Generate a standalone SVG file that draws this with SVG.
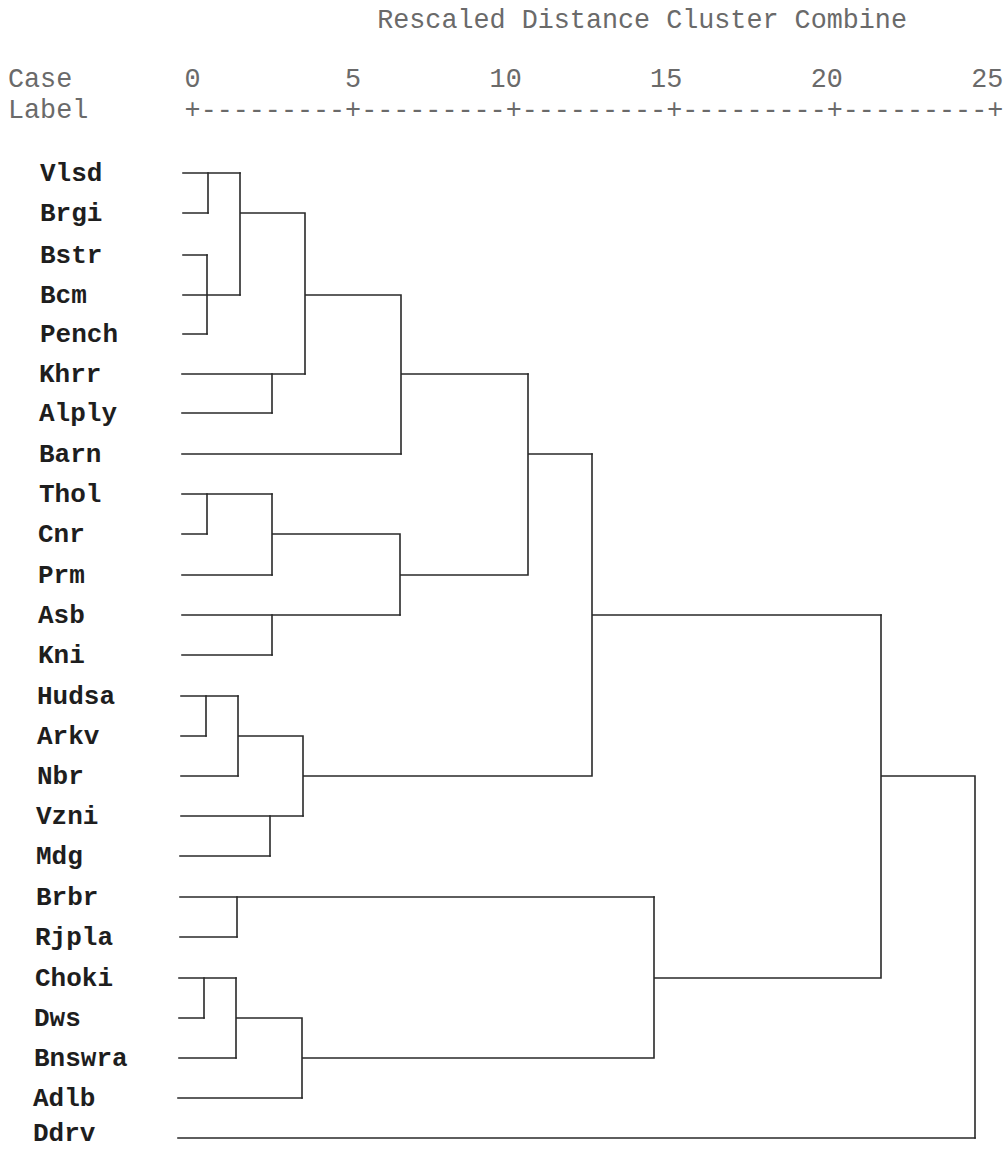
<svg xmlns="http://www.w3.org/2000/svg" width="1007" height="1149" viewBox="0 0 1007 1149">
<style>
.hdr{font-family:"Liberation Mono","Courier New",monospace;font-size:26.75px;fill:#6a6a6a;white-space:pre}
.lbl{font-family:"Liberation Mono","Courier New",monospace;font-size:26px;font-weight:bold;fill:#1e1e1e}
.ln{fill:none;stroke:#2a2a2a;stroke-width:1.6;stroke-linecap:square}
</style>
<rect width="1007" height="1149" fill="#ffffff"/>
<g id="header">
<text class="hdr" x="8" y="28" xml:space="preserve">                       Rescaled Distance Cluster Combine</text>
<text class="hdr" x="8" y="87" xml:space="preserve">Case       0         5        10        15        20        25</text>
<text class="hdr" x="8" y="118" xml:space="preserve">Label      +---------+---------+---------+---------+---------+</text>
</g>
<g id="nodes">
<g id="n-Vlsd"><text class="lbl" x="40" y="181">Vlsd</text></g>
<g id="n-Brgi"><text class="lbl" x="40" y="221">Brgi</text></g>
<g id="n-Bstr"><text class="lbl" x="40" y="263">Bstr</text></g>
<g id="n-Bcm"><text class="lbl" x="40" y="303">Bcm</text></g>
<g id="n-Pench"><text class="lbl" x="40" y="342">Pench</text></g>
<g id="n-Khrr"><text class="lbl" x="39" y="382">Khrr</text></g>
<g id="n-Alply"><text class="lbl" x="39" y="421">Alply</text></g>
<g id="n-Barn"><text class="lbl" x="39" y="462">Barn</text></g>
<g id="n-Thol"><text class="lbl" x="39" y="502">Thol</text></g>
<g id="n-Cnr"><text class="lbl" x="38" y="542">Cnr</text></g>
<g id="n-Prm"><text class="lbl" x="38" y="583">Prm</text></g>
<g id="n-Asb"><text class="lbl" x="38" y="623">Asb</text></g>
<g id="n-Kni"><text class="lbl" x="38" y="663">Kni</text></g>
<g id="n-Hudsa"><text class="lbl" x="37" y="704">Hudsa</text></g>
<g id="n-Arkv"><text class="lbl" x="37" y="744">Arkv</text></g>
<g id="n-Nbr"><text class="lbl" x="37" y="784">Nbr</text></g>
<g id="n-Vzni"><text class="lbl" x="36" y="824">Vzni</text></g>
<g id="n-Mdg"><text class="lbl" x="36" y="864">Mdg</text></g>
<g id="n-Brbr"><text class="lbl" x="36" y="905">Brbr</text></g>
<g id="n-Rjpla"><text class="lbl" x="35" y="945">Rjpla</text></g>
<g id="n-Choki"><text class="lbl" x="35" y="986">Choki</text></g>
<g id="n-Dws"><text class="lbl" x="34" y="1026">Dws</text></g>
<g id="n-Bnswra"><text class="lbl" x="34" y="1066">Bnswra</text></g>
<g id="n-Adlb"><text class="lbl" x="33" y="1106">Adlb</text></g>
<g id="n-Ddrv"><text class="lbl" x="33" y="1141">Ddrv</text></g>
</g>
<g id="connectors">
<path class="ln" d="M183,173H240 M183,213H208 M183,255H207 M183,295H240 M183,334H207 M182,374H305 M182,413H272 M182,454H401 M182,494H272 M182,534H207 M182,575H272 M182,615H400 M182,655H272 M181,696H238 M181,736H206 M181,776H238 M181,816H303 M180,856H270 M180,897H654 M180,937H237 M179,978H236 M179,1018H204 M179,1058H236 M178,1098H302 M178,1138H975"/>
<path class="ln" d="M208,173V213 M207,255V334 M240,173V295 M240,213H305 M272,374V413 M305,213V374 M305,295H401 M401,295V454 M401,374H528"/>
<path class="ln" d="M207,494V534 M272,494V575 M272,534H400 M272,615V655 M400,534V615 M400,575H528 M528,374V575 M528,454H592"/>
<path class="ln" d="M206,696V736 M238,696V776 M238,736H303 M270,816V856 M303,736V816 M303,776H592 M592,454V776 M592,615H881"/>
<path class="ln" d="M237,897V937 M204,978V1018 M236,978V1058 M236,1018H302 M302,1018V1098 M302,1058H654 M654,897V1058 M654,978H881 M881,615V978 M881,776H975 M975,776V1138"/>
</g>
</svg>
